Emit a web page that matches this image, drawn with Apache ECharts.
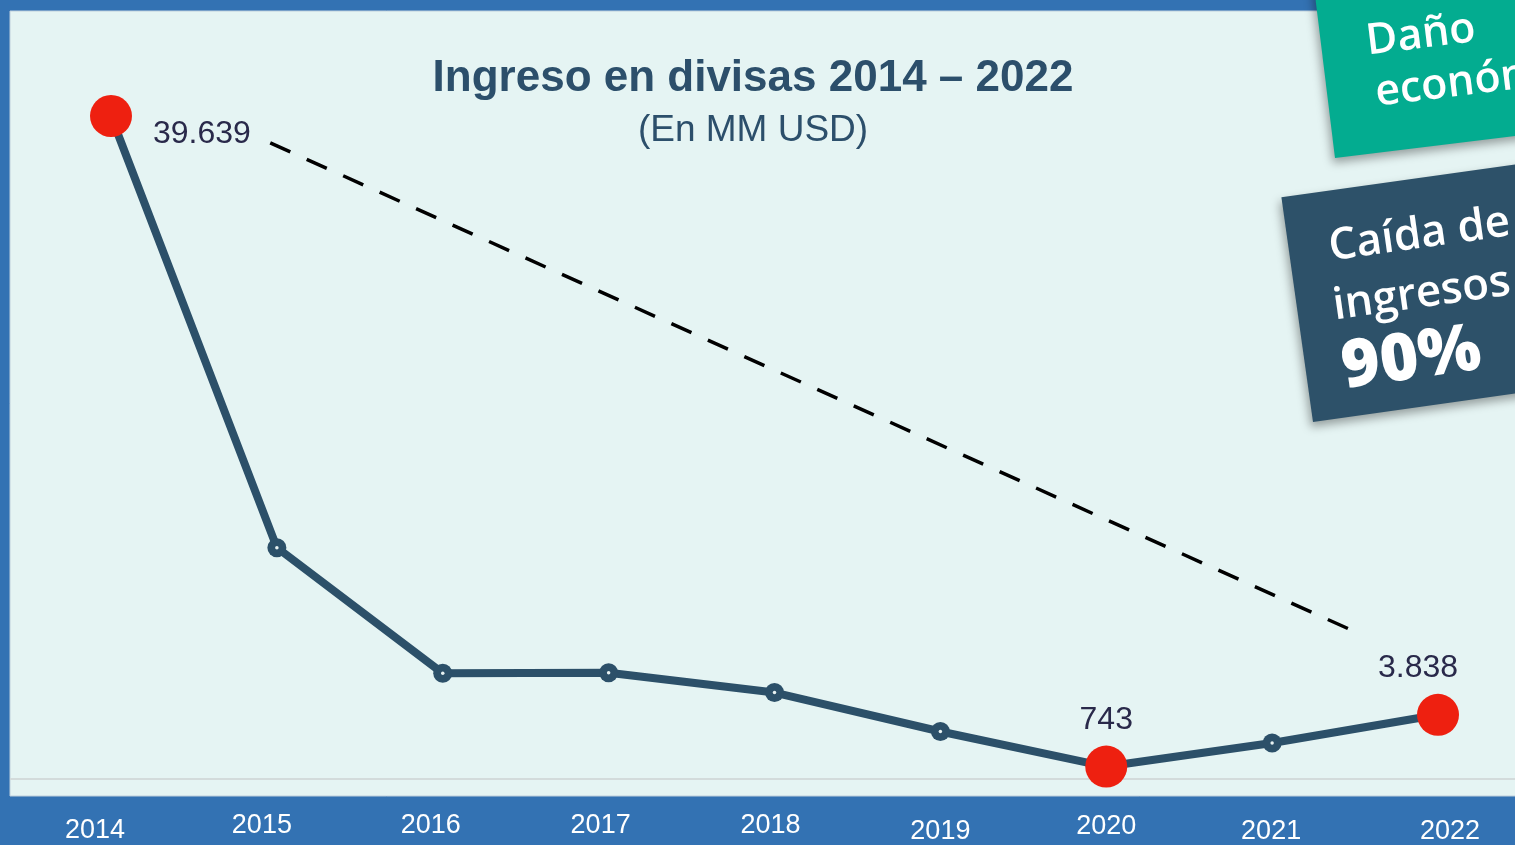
<!DOCTYPE html>
<html>
<head>
<meta charset="utf-8">
<title>Ingreso en divisas 2014 – 2022</title>
<script src="https://cdn.jsdelivr.net/npm/echarts@6/dist/echarts.min.js"></script>
<style>
  body { margin: 0; background: #3372b3; }
  #chart { width: 1515px; height: 845px; }
</style>
</head>
<body>
<div id="chart"></div>
<script>
// datos (MM USD)
var years = ['2014', '2015', '2016', '2017', '2018', '2019', '2020', '2021', '2022'];
var ingresos = [39639, 13830, 6320, 6350, 5170, 2840, 743, 2150, 3838];
var destacados = ['2014', '2020', '2022'];
// linea de tendencia punteada: [posicion en eje x, valor]
var tendencia = [[0.96, 38030], [7.55, 8580]];

// ajustes de layout (no son datos)
var navy = '#2c5069';
var labelFont = 'Liberation Sans';
var boxFont = '"Open Sans"';
var yearNudgeX = [-16, -15, -12, -8, -4, 0, 0, -1, 12];
var yearNudgeY = [5, 0, 0, 0, 0, 6, 1, 6, 6];
var labelPlace = {
    '2014': {position: 'right', distance: 21, offset: [0, 18]},
    '2020': {position: 'top', distance: 9, offset: [0, 0]},
    '2022': {position: 'top', distance: 10, offset: [-20, 0]}
};

function fmtEs(v) {
    return String(v).replace(/\B(?=(\d{3})+(?!\d))/g, '.');
}
function esDestacado(i) {
    return destacados.indexOf(years[i]) >= 0;
}

var chart = echarts.init(document.getElementById('chart'));

var puntos = ingresos.map(function (v, i) { return [i, v]; });

var seriesData = puntos.map(function (p, i) {
    var item = {value: p};
    if (esDestacado(i)) {
        var place = labelPlace[years[i]];
        item.symbol = 'circle';
        item.symbolSize = 42;
        item.itemStyle = {color: '#ee2010'};
        item.label = {
            show: true,
            position: place.position,
            distance: place.distance,
            offset: place.offset,
            formatter: function (prm) { return fmtEs(prm.value[1]); },
            fontFamily: labelFont,
            fontSize: 32,
            color: '#29294a'
        };
    }
    return item;
});

// estilos rich para desplazar cada etiqueta de año
var yearRich = {};
years.forEach(function (y, i) {
    var dx = yearNudgeX[i];
    yearRich['y' + i] = {
        color: '#fff',
        fontSize: 27,
        fontFamily: labelFont,
        padding: [yearNudgeY[i], dx < 0 ? -2 * dx : 0, 0, dx > 0 ? 2 * dx : 0]
    };
});

var option = {
    backgroundColor: '#3372b3',
    animation: false,
    title: {
        text: 'Ingreso en divisas 2014 – 2022',
        subtext: '(En MM USD)',
        left: 748,
        textAlign: 'center',
        top: 52,
        itemGap: 11,
        textStyle: {fontFamily: labelFont, fontSize: 44, fontWeight: 'bold', color: '#2c4f6b'},
        subtextStyle: {fontFamily: labelFont, fontSize: 37, color: '#2c4f6b'}
    },
    grid: {left: 111, right: 77, top: 116, bottom: 64},
    xAxis: {
        type: 'value',
        min: 0,
        max: years.length - 1,
        interval: 1,
        axisLine: {show: false},
        axisTick: {show: false},
        splitLine: {show: false},
        axisLabel: {
            margin: 33,
            verticalAlign: 'top',
            formatter: function (v) { return '{y' + v + '|' + years[v] + '}'; },
            rich: yearRich
        }
    },
    yAxis: {
        type: 'value',
        min: 0,
        max: 39639,
        show: false
    },
    graphic: [
        {
            type: 'rect', id: 'fondo', z: -10,
            shape: {x: 10, y: 11, width: 1510, height: 785},
            style: {fill: '#e5f4f3', stroke: '#bfcfdc', lineWidth: 1}
        },
        {
            type: 'group', id: 'boxVerde', x: 1335, y: 158, rotation: 7 * Math.PI / 180, z: 100,
            children: [
                {type: 'rect', shape: {x: 0, y: -240, width: 280, height: 240},
                 style: {fill: '#03ac90', shadowBlur: 10, shadowOffsetX: -2, shadowOffsetY: 5, shadowColor: 'rgba(0,0,0,0.35)'}},
                {type: 'text', x: 45, y: -111,
                 style: {text: 'Daño', font: '600 43px ' + boxFont, fill: '#fff', verticalAlign: 'middle'}},
                {type: 'text', x: 48, y: -59,
                 style: {text: 'económico', font: '600 43px ' + boxFont, fill: '#fff', verticalAlign: 'middle'}}
            ]
        },
        {
            type: 'group', id: 'boxAzul', x: 1313, y: 422, rotation: 8 * Math.PI / 180, z: 100,
            children: [
                {type: 'rect', shape: {x: 0, y: -227, width: 280, height: 227},
                 style: {fill: '#2d5169', shadowBlur: 10, shadowOffsetX: -2, shadowOffsetY: 5, shadowColor: 'rgba(0,0,0,0.35)'}},
                {type: 'text', x: 40, y: -170,
                 style: {text: 'Caída de', font: '600 44px ' + boxFont, fill: '#fff', verticalAlign: 'middle'}},
                {type: 'text', x: 36, y: -111,
                 style: {text: 'ingresos', font: '600 44px ' + boxFont, fill: '#fff', verticalAlign: 'middle'}},
                {type: 'text', x: 36, y: -48,
                 style: {text: '90%', font: '800 66px ' + boxFont, fill: '#fff', verticalAlign: 'middle'}}
            ]
        }
    ],
    series: [
        {
            type: 'line',
            name: 'tendencia',
            data: tendencia,
            symbol: 'none',
            silent: true,
            lineStyle: {color: '#000', width: 3.5, type: [22, 18]},
            z: 3
        },
        {
            type: 'line',
            name: 'Ingreso en divisas',
            data: seriesData,
            clip: false,
            symbol: 'circle',
            symbolSize: 19,
            lineStyle: {color: navy, width: 8},
            itemStyle: {color: navy},
            z: 4
        },
        {
            // punto claro al centro de cada marcador oscuro
            type: 'line',
            name: 'centros',
            data: puntos,
            silent: true,
            symbol: 'circle',
            symbolSize: function (val, prm) { return esDestacado(prm.dataIndex) ? 0 : 3.5; },
            lineStyle: {opacity: 0},
            itemStyle: {color: '#e8f2f2'},
            z: 5
        }
    ]
};

chart.setOption(option);

// linea base a lo ancho, a la altura del cero del eje y
var y0 = chart.convertToPixel({gridIndex: 0}, [0, 0])[1];
chart.setOption({
    graphic: [{
        type: 'line', id: 'base', z: -5,
        shape: {x1: 10, y1: y0, x2: 1515, y2: y0},
        style: {stroke: '#d3dbdb', lineWidth: 2}
    }]
});
</script>
</body>
</html>
